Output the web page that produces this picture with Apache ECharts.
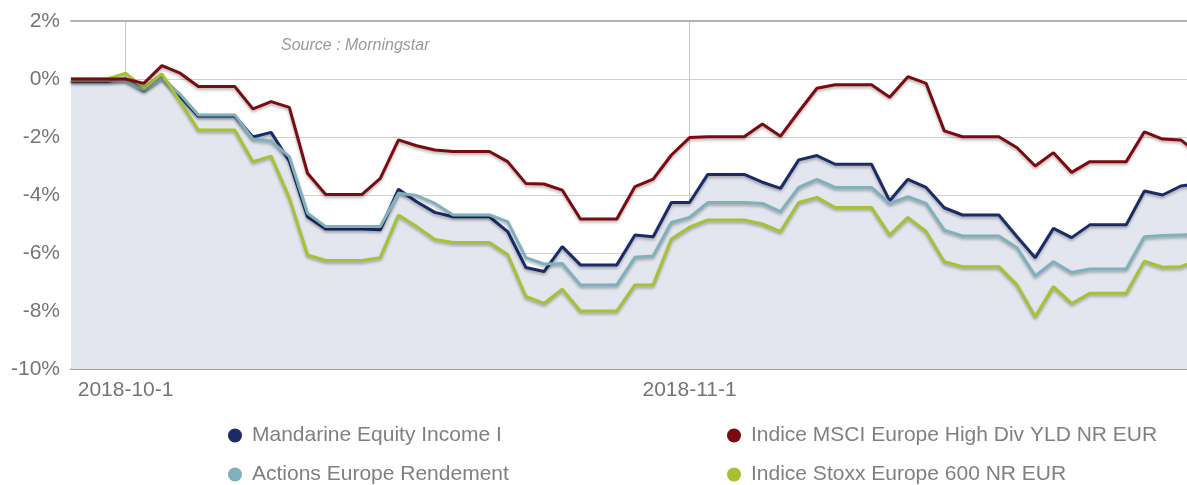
<!DOCTYPE html>
<html>
<head>
<meta charset="utf-8">
<script src="https://cdn.jsdelivr.net/npm/echarts@6/dist/echarts.min.js"></script>
<style>
  html, body { margin: 0; padding: 0; background: #fff; overflow: hidden; }
  /* plot runs a few px past the window edge, like the cropped original */
  #chart { width: 1199px; height: 485px; }
</style>
</head>
<body>
<div id="chart"></div>
<script>
// daily dates, weekends included (flat values)
var dates = [
    '2018-09-28', '2018-09-29', '2018-09-30',
    '2018-10-01', '2018-10-02', '2018-10-03', '2018-10-04', '2018-10-05', '2018-10-06', '2018-10-07',
    '2018-10-08', '2018-10-09', '2018-10-10', '2018-10-11', '2018-10-12', '2018-10-13', '2018-10-14',
    '2018-10-15', '2018-10-16', '2018-10-17', '2018-10-18', '2018-10-19', '2018-10-20', '2018-10-21',
    '2018-10-22', '2018-10-23', '2018-10-24', '2018-10-25', '2018-10-26', '2018-10-27', '2018-10-28',
    '2018-10-29', '2018-10-30', '2018-10-31',
    '2018-11-01', '2018-11-02', '2018-11-03', '2018-11-04',
    '2018-11-05', '2018-11-06', '2018-11-07', '2018-11-08', '2018-11-09', '2018-11-10', '2018-11-11',
    '2018-11-12', '2018-11-13', '2018-11-14', '2018-11-15', '2018-11-16', '2018-11-17', '2018-11-18',
    '2018-11-19', '2018-11-20', '2018-11-21', '2018-11-22', '2018-11-23', '2018-11-24', '2018-11-25',
    '2018-11-26', '2018-11-27', '2018-11-28', '2018-11-29'
];

var mandarine = [
    -0.08, -0.08, -0.08, 0.0, -0.4, 0.08, -0.6, -1.28, -1.28, -1.28,
    -2.0, -1.84, -2.83, -4.75, -5.17, -5.17, -5.17, -5.2, -3.8, -4.23,
    -4.6, -4.75, -4.75, -4.75, -5.26, -6.5, -6.64, -5.78, -6.41, -6.41,
    -6.41, -5.38, -5.44, -4.26, -4.26, -3.29, -3.29, -3.29, -3.56, -3.77,
    -2.79, -2.64, -2.94, -2.94, -2.94, -4.2, -3.46, -3.74, -4.44, -4.69,
    -4.69, -4.69, -5.44, -6.16, -5.15, -5.47, -5.03, -5.03, -5.03, -3.86,
    -4.0, -3.69, -3.6
];
var actions = [
    -0.05, -0.05, -0.05, -0.05, -0.38, 0.03, -0.53, -1.24, -1.24, -1.24,
    -2.07, -2.14, -2.68, -4.63, -5.09, -5.09, -5.09, -5.09, -3.94, -4.02,
    -4.29, -4.69, -4.69, -4.69, -4.92, -6.16, -6.38, -6.36, -7.1, -7.1,
    -7.1, -6.15, -6.1, -4.95, -4.77, -4.26, -4.26, -4.26, -4.29, -4.57,
    -3.74, -3.46, -3.74, -3.74, -3.74, -4.29, -4.06, -4.29, -5.21, -5.41,
    -5.41, -5.41, -5.82, -6.79, -6.3, -6.67, -6.55, -6.55, -6.55, -5.44,
    -5.4, -5.38, -5.36
];
var msciHighDiv = [
    0, 0, 0, 0, -0.15, 0.46, 0.2, -0.26, -0.26, -0.26,
    -1.03, -0.78, -0.98, -3.25, -3.98, -3.98, -3.98, -3.43, -2.1, -2.3,
    -2.45, -2.5, -2.5, -2.5, -2.85, -3.6, -3.62, -3.83, -4.83, -4.83,
    -4.83, -3.71, -3.45, -2.62, -2.02, -1.99, -1.99, -1.99, -1.55, -1.97,
    -1.13, -0.32, -0.2, -0.2, -0.2, -0.63, 0.08, -0.15, -1.79, -1.99,
    -1.99, -1.99, -2.37, -3.0, -2.54, -3.22, -2.85, -2.85, -2.85, -1.82,
    -2.07, -2.1, -2.6
];
var stoxx600 = [
    0.0, 0.0, 0.0, 0.2, -0.3, 0.17, -0.78, -1.76, -1.76, -1.76,
    -2.85, -2.66, -4.1, -6.07, -6.26, -6.26, -6.26, -6.16, -4.69, -5.09,
    -5.53, -5.64, -5.64, -5.64, -6.05, -7.5, -7.74, -7.25, -8.0, -8.0,
    -8.0, -7.1, -7.1, -5.52, -5.11, -4.86, -4.86, -4.86, -5.0, -5.26,
    -4.26, -4.08, -4.43, -4.43, -4.43, -5.38, -4.77, -5.26, -6.3, -6.47,
    -6.47, -6.47, -7.1, -8.2, -7.16, -7.74, -7.39, -7.39, -7.39, -6.28,
    -6.49, -6.47, -6.24
];

var names = [
    'Mandarine Equity Income I',
    'Actions Europe Rendement',
    'Indice MSCI Europe High Div YLD NR EUR',
    'Indice Stoxx Europe 600 NR EUR'
];

var chart = echarts.init(document.getElementById('chart'));
var font = '"Liberation Sans", Arial, sans-serif';

// only the first day of each month gets a label and a vertical line
function isMonthStart(index, value) {
    return value.slice(8) === '01';
}

var lineShadow = {
    shadowColor: 'rgba(0, 0, 0, 0.3)',
    shadowBlur: 3,
    shadowOffsetY: 2
};

function makeSeries(name, data, color, area) {
    var s = {
        name: name,
        type: 'line',
        data: data,
        symbol: 'none',
        smooth: false,
        animation: false,
        lineStyle: Object.assign({ color: color, width: 3 }, lineShadow),
        itemStyle: { color: color }
    };
    if (area) {
        s.areaStyle = { color: '#e3e6ee', origin: 'start', opacity: 1, shadowBlur: 0 };
    }
    return s;
}

function makeLegend(left, items) {
    return {
        orient: 'vertical',
        left: left,
        top: 425,
        padding: 0,
        itemGap: 18,
        icon: 'circle',
        itemWidth: 14,
        itemHeight: 14,
        itemStyle: { borderWidth: 0 },
        lineStyle: { width: 0 },
        textStyle: {
            fontSize: 21,
            lineHeight: 20,
            color: '#808080',
            fontFamily: font,
            padding: [0, 0, 0, 5]
        },
        data: items
    };
}

var option = {
    backgroundColor: '#fff',
    textStyle: { fontFamily: font },
    title: {
        text: 'Source : Morningstar',
        left: 281,
        top: 38,
        padding: 0,
        textStyle: {
            fontFamily: font,
            fontStyle: 'italic',
            fontWeight: 'normal',
            fontSize: 16,
            color: '#9a9a9a'
        }
    },
    grid: {
        left: 71,
        right: 0,
        top: 21,
        bottom: 116
    },
    legend: [
        makeLegend(228, [names[0], names[1]]),
        makeLegend(727, [names[2], names[3]])
    ],
    xAxis: [{
        type: 'category',
        data: dates,
        boundaryGap: false,
        axisLine: { onZero: false, lineStyle: { color: '#a3a3a3', width: 2 } },
        axisTick: { show: false },
        axisLabel: {
            interval: isMonthStart,
            formatter: function (v) {
                var p = v.split('-');
                return p[0] + '-' + parseInt(p[1], 10) + '-' + parseInt(p[2], 10);
            },
            fontSize: 21,
            color: '#757575',
            margin: 11
        },
        splitLine: {
            show: true,
            interval: isMonthStart,
            lineStyle: { color: '#c9cad0', width: 1 }
        }
    }, {
        type: 'category',
        data: dates,
        position: 'top',
        boundaryGap: false,
        axisLine: { onZero: false, lineStyle: { color: '#b3b3b3', width: 2 } },
        axisTick: { show: false },
        axisLabel: { show: false },
        splitLine: { show: false }
    }],
    yAxis: {
        type: 'value',
        min: -10,
        max: 2,
        interval: 2,
        axisLine: { show: false },
        axisTick: { show: false },
        axisLabel: {
            formatter: '{value}%',
            fontSize: 21,
            color: '#757575',
            margin: 11
        },
        splitLine: { lineStyle: { color: '#cfd0d6', width: 1 } }
    },
    series: [
        makeSeries(names[0], mandarine, '#1b2b68', true),
        makeSeries(names[1], actions, '#7fb0bd', false),
        makeSeries(names[3], stoxx600, '#a7c132', false),
        makeSeries(names[2], msciHighDiv, '#7a0b10', false)
    ]
};
chart.setOption(option);
</script>
</body>
</html>
